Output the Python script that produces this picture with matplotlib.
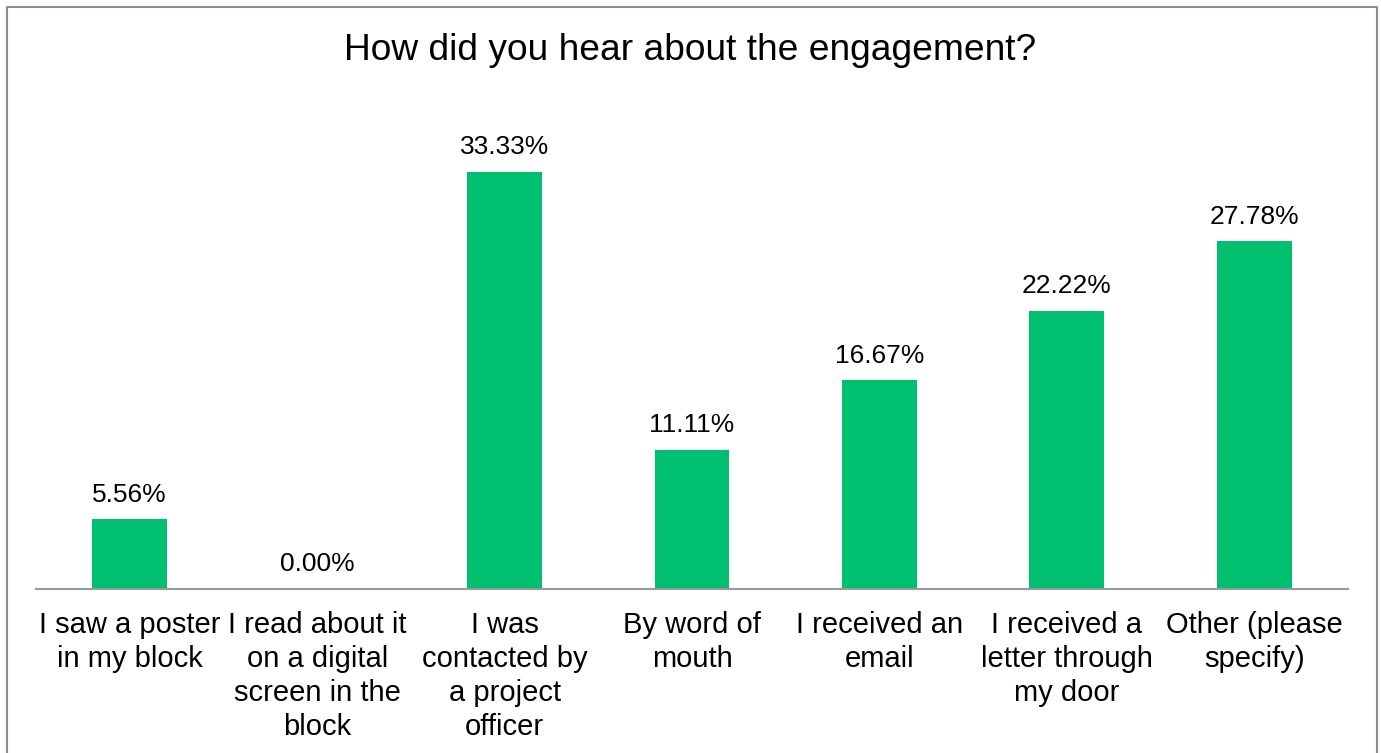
import matplotlib.pyplot as plt
from matplotlib.lines import Line2D

plt.rcParams['font.family'] = ['Liberation Sans', 'DejaVu Sans']

categories = [
    "I saw a poster\nin my block",
    "I read about it\non a digital\nscreen in the\nblock",
    "I was\ncontacted by\na project\nofficer",
    "By word of\nmouth",
    "I received an\nemail",
    "I received a\nletter through\nmy door",
    "Other (please\nspecify)",
]
percentages = [5.56, 0.00, 33.33, 11.11, 16.67, 22.22, 27.78]

W, H = 1381, 753
fig = plt.figure(figsize=(W / 100, H / 100), dpi=100)
ax = fig.add_axes([36 / W, 1 - 589 / H, 1312 / W, 438 / H])

x = range(len(categories))
ax.bar(x, percentages, width=0.4, color='#00BF6F')
for xi, v in zip(x, percentages):
    ax.text(xi, v + 1.0, f"{v:.2f}%", ha='center', va='bottom', fontsize=19)

ax.set_xlim(-0.5, len(categories) - 0.5)
ax.set_ylim(0, 35)
ax.set_yticks([])
ax.set_xticks(list(x))
ax.set_xticklabels(categories, fontsize=21, linespacing=1.27)
ax.tick_params(axis='x', length=0, pad=16)
for side in ['top', 'right', 'left']:
    ax.spines[side].set_visible(False)
ax.spines['bottom'].set_color('#9a9a9a')
ax.spines['bottom'].set_linewidth(1.5)

fig.text(0.5, 1 - 51 / H, "How did you hear about the engagement?",
         ha='center', va='center', fontsize=26.7)

# outer frame (left, top, right)
fx0, fx1, fy = 6.5 / W, 1376.5 / W, 1 - 6.5 / H
fig.add_artist(Line2D([fx0, fx0, fx1, fx1], [0, fy, fy, 0],
                      transform=fig.transFigure, color='#8c8c8c', lw=1.5))

fig.savefig('out.png', dpi=100)
